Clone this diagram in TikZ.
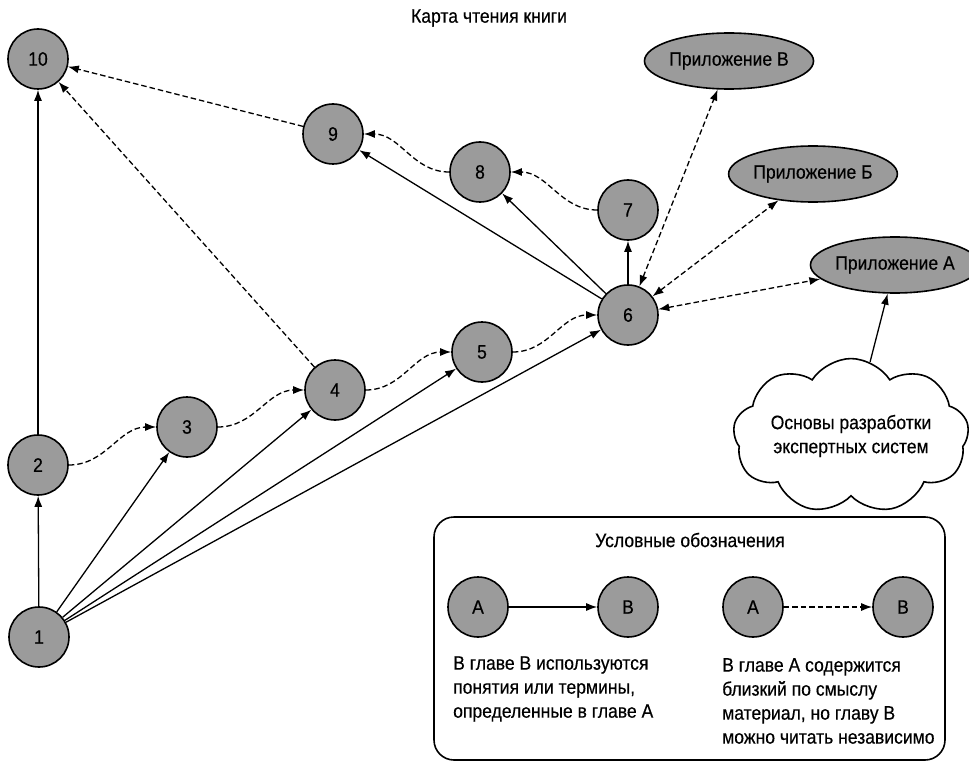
\documentclass[tikz,border=0pt]{standalone}
\usepackage{fontspec}
\setmainfont{Liberation Sans}[FakeStretch=0.9,FakeBold=0.4]
\usetikzlibrary{arrows.meta,shapes.geometric,shapes.symbols}
\definecolor{chapfill}{RGB}{155,155,155}
\begin{document}
\begin{tikzpicture}[x=1pt,y=-1pt,
  every node/.style={font=\fontsize{19.5}{24}\selectfont},
  chap/.style={circle,draw,line width=1.6pt,fill=chapfill,minimum size=60pt,inner sep=0pt},
  app/.style={ellipse,draw,line width=1.6pt,fill=chapfill,minimum width=142pt,minimum height=56pt,inner sep=0pt},
  dep/.style={line width=1.3pt,-{Latex[length=11pt,width=8pt]}},
  rel/.style={dep,dash pattern=on 5.5pt off 3pt},
  both/.style={rel,{Latex[length=11pt,width=8pt]}-{Latex[length=11pt,width=8pt]}},
]
\path[use as bounding box] (0,0) rectangle (969,762);

% title
\node (title) at (489,18) {Карта чтения книги};

% chapters
\node[chap] (c1) at (39,637) {1};
\node[chap] (c2) at (38,465) {2};
\node[chap] (c3) at (187,427) {3};
\node[chap] (c4) at (335,390) {4};
\node[chap] (c5) at (482,352) {5};
\node[chap] (c6) at (628,315) {6};
\node[chap] (c7) at (628,210) {7};
\node[chap] (c8) at (480,172) {8};
\node[chap] (c9) at (333,134) {9};
\node[chap] (c10) at (38,59) {10};

% appendices
\node[app] (appV) at (729,61) {Приложение В};
\node[app] (appB) at (813,174) {Приложение Б};
\node[app] (appA) at (895,265) {Приложение А};

% background cloud
\node[cloud,draw,line width=1.6pt,cloud puffs=9,cloud puff arc=115,aspect=1.9,
      minimum width=230pt,minimum height=120pt,align=center,inner sep=0pt]
      (base) at (851,436) {Основы разработки\\экспертных систем};

% prerequisites
\draw[dep] (c1) -- (c2);
\draw[dep] (c1) -- (c3);
\draw[dep] (c1) -- (c4);
\draw[dep] (c1) -- (c5);
\draw[dep] (c1) -- (c6);
\draw[dep] (c2) -- (c10);
\draw[dep] (c6) -- (c7);
\draw[dep] (c6) -- (c8);
\draw[dep] (c6) -- (c9);
\draw[dep] (base) -- (appA);

% related material
\draw[rel] (c2.east) to[out=0,in=180] (c3.west);
\draw[rel] (c3.east) to[out=0,in=180] (c4.west);
\draw[rel] (c4.east) to[out=0,in=180] (c5.west);
\draw[rel] (c5.east) to[out=0,in=180] (c6.west);
\draw[rel] (c7.west) to[out=180,in=0] (c8.east);
\draw[rel] (c8.west) to[out=180,in=0] (c9.east);
\draw[rel] (c9) -- (c10);
\draw[rel] (c4) -- (c10);
\draw[both] (c6) -- (appV);
\draw[both] (c6) -- (appB);
\draw[both] (c6) -- (appA);

% legend
\draw[line width=1.6pt,rounded corners=20pt] (434,517) rectangle (945,760);
\node (legtitle) at (690,540) {Условные обозначения};
\node[chap] (la1) at (478,607) {A};
\node[chap] (lb1) at (628,607) {B};
\node[chap] (la2) at (753,607) {A};
\node[chap] (lb2) at (903,607) {B};
\draw[dep] (la1) -- (lb1);
\draw[rel] (la2) -- (lb2);
\node[anchor=west,align=left,inner sep=0pt] (ltxt) at (453,689)
  {В главе В используются\\понятия или термины,\\определенные в главе А};
\node[anchor=west,align=left,inner sep=0pt] (rtxt) at (722,701)
  {В главе А содержится\\близкий по смыслу\\материал, но главу В\\можно читать независимо};
\end{tikzpicture}
\end{document}
